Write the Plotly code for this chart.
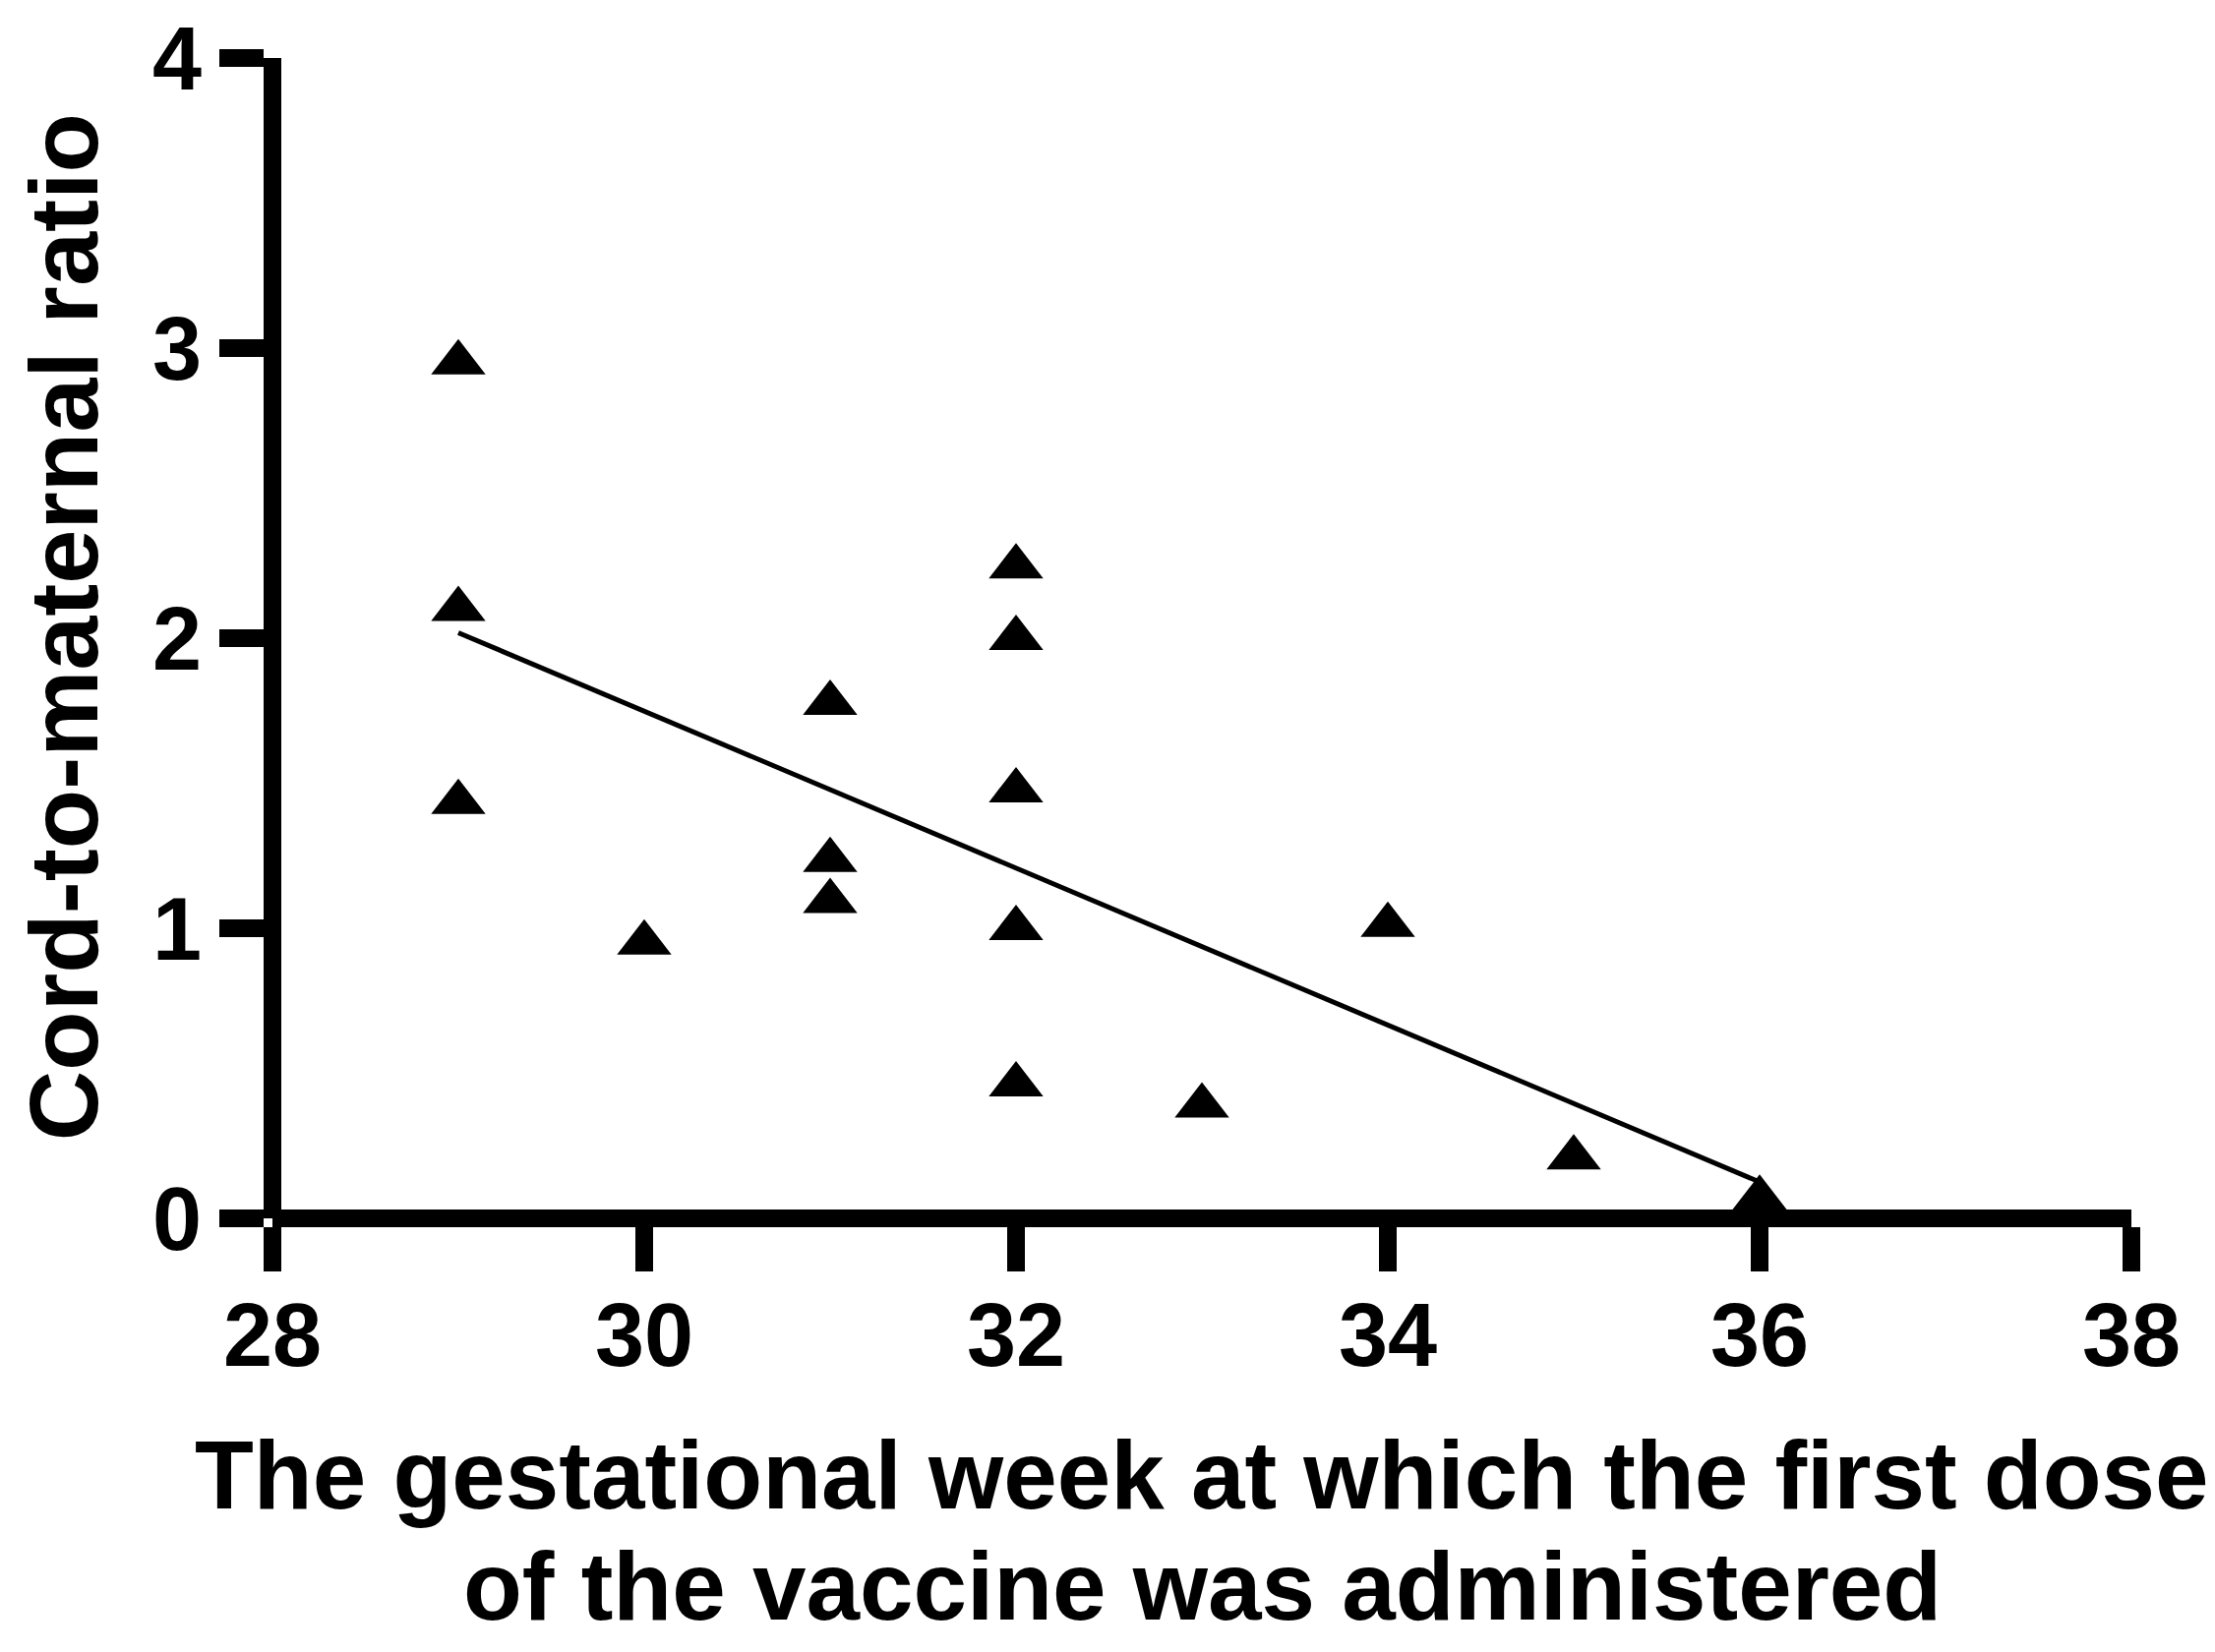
import numpy as np
import plotly.graph_objects as go

# Data
weeks = [29, 29, 29, 30, 31, 31, 31, 32, 32, 32, 32, 32, 33, 34, 35, 36]
ratio = [2.95, 2.10, 1.435, 0.95, 1.776, 1.235, 1.093, 2.247, 2.00, 1.475, 1.00, 0.461, 0.388, 1.011, 0.209, 0.07]

x_ticks = [28, 30, 32, 34, 36, 38]
y_ticks = [0, 1, 2, 3, 4]

x_title_lines = ["The gestational week at which the first dose",
                 "of the vaccine was administered"]
y_title = "Cord-to-maternal ratio"

# Linear regression fit line over observed range
slope, intercept = np.polyfit(weeks, ratio, 1)
fit_x = [min(weeks), max(weeks)]
fit_y = [slope * v + intercept for v in fit_x]

FONT = "Liberation Sans, Arial, Helvetica, sans-serif"

fig = go.Figure()
fig.add_trace(go.Scatter(
    x=fit_x, y=fit_y, mode="lines",
    line=dict(color="black", width=5),
    hoverinfo="skip", showlegend=False, cliponaxis=False,
))
fig.add_trace(go.Scatter(
    x=weeks, y=ratio, mode="markers",
    marker=dict(symbol="triangle-up", size=48, color="black", line=dict(width=0)),
    showlegend=False, cliponaxis=False,
))

axis_common = dict(
    showgrid=False, zeroline=False, showline=True,
    linecolor="black", linewidth=18,
    ticks="outside", tickcolor="black", tickwidth=18, ticklen=45,
    tickfont=dict(family=FONT, size=90, color="black", weight="bold"),
    anchor="free", position=0, automargin=False,
)

fig.update_layout(
    width=2252, height=1680,
    margin=dict(l=269, r=93, t=51, b=449, autoexpand=False),
    paper_bgcolor="white", plot_bgcolor="white",
    xaxis=dict(range=[28, 38], tickmode="array", tickvals=x_ticks,
               ticktext=[str(v) for v in x_ticks], ticklabelstandoff=-12,
               **axis_common),
    yaxis=dict(range=[0, 4], tickmode="array", tickvals=y_ticks,
               ticktext=[str(v) for v in y_ticks], **axis_common),
    annotations=[
        dict(text=x_title_lines[0], xref="paper", yref="paper", x=0.5, y=-0.2211,
             xanchor="center", yanchor="middle", showarrow=False,
             font=dict(family=FONT, size=98, color="black", weight="bold")),
        dict(text=x_title_lines[1], xref="paper", yref="paper", x=0.5, y=-0.3169,
             xanchor="center", yanchor="middle", showarrow=False,
             font=dict(family=FONT, size=98, color="black", weight="bold")),
        dict(text=y_title, xref="paper", yref="paper", x=-0.1125, y=0.5095,
             xanchor="center", yanchor="middle", showarrow=False, textangle=-90,
             font=dict(family=FONT, size=99, color="black", weight="bold")),
    ],
)

fig.write_html("out.html")
